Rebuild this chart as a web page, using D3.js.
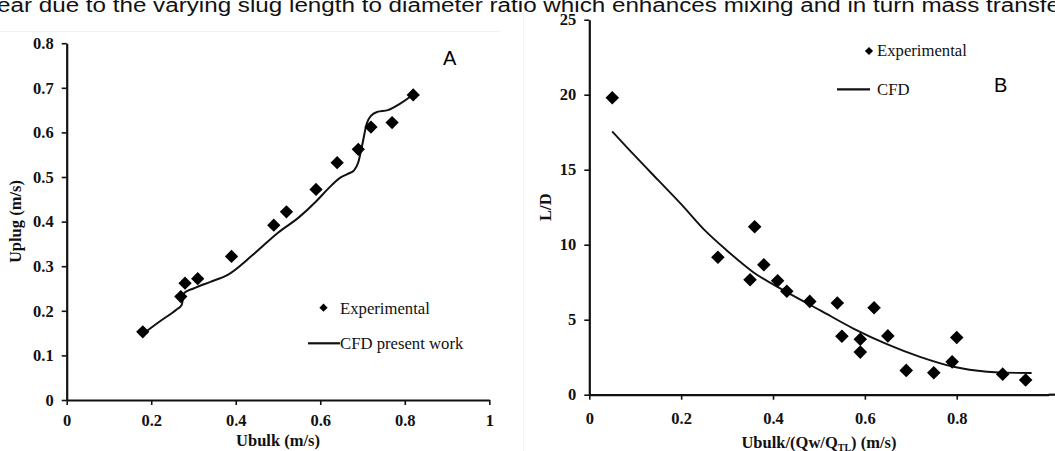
<!DOCTYPE html>
<html>
<head>
<meta charset="utf-8">
<script src="https://cdn.jsdelivr.net/npm/d3@7.9.0/dist/d3.min.js"></script>
<style>
  body { margin: 0; background: #fff; }
  svg { display: block; }
  .tick text { font-family: "Liberation Serif", "Times New Roman", serif; font-weight: bold; font-size: 16.5px; fill: #111; }
  .ttl { font-family: "Liberation Serif", "Times New Roman", serif; font-weight: bold; font-size: 16.5px; fill: #111; }
  .leg { font-family: "Liberation Serif", "Times New Roman", serif; font-size: 16.7px; fill: #111; }
  .panel { font-family: "Liberation Sans", Arial, sans-serif; font-size: 20px; fill: #000; }
</style>
</head>
<body>
<svg id="fig" width="1055" height="451"></svg>
<script>
// panel A: Uplug vs Ubulk
const aExpX = [0.18, 0.27, 0.28, 0.31, 0.39, 0.49, 0.52, 0.59, 0.64, 0.69, 0.72, 0.77, 0.82];
const aExpY = [0.153, 0.232, 0.262, 0.272, 0.322, 0.392, 0.422, 0.472, 0.532, 0.562, 0.612, 0.622, 0.684];
const aCfdX = [0.18, 0.22, 0.26, 0.272, 0.278, 0.30, 0.34, 0.38, 0.44, 0.50, 0.55, 0.59, 0.62, 0.645, 0.665, 0.68, 0.69, 0.70, 0.71, 0.72, 0.735, 0.76, 0.79, 0.82];
const aCfdY = [0.148, 0.176, 0.203, 0.213, 0.240, 0.250, 0.265, 0.280, 0.325, 0.375, 0.410, 0.445, 0.475, 0.497, 0.507, 0.515, 0.533, 0.575, 0.620, 0.637, 0.646, 0.650, 0.665, 0.685];
const aXTicks = [0, 0.2, 0.4, 0.6, 0.8, 1];
const aYTicks = [0, 0.1, 0.2, 0.3, 0.4, 0.5, 0.6, 0.7, 0.8];

// panel B: L/D vs Ubulk/(Qw/QTL)
const bExpX = [0.05, 0.28, 0.35, 0.36, 0.38, 0.41, 0.43, 0.48, 0.54, 0.55, 0.59, 0.59, 0.62, 0.65, 0.69, 0.75, 0.79, 0.80, 0.90, 0.95];
const bExpY = [19.8, 9.16, 7.66, 11.2, 8.66, 7.6, 6.9, 6.22, 6.11, 3.9, 3.7, 2.84, 5.8, 3.92, 1.62, 1.46, 2.19, 3.81, 1.37, 0.98];
const bCfdX = [0.05, 0.10, 0.15, 0.20, 0.25, 0.30, 0.357, 0.43, 0.503, 0.575, 0.648, 0.72, 0.793, 0.866, 0.90, 0.963];
const bCfdY = [17.55, 15.9, 14.3, 12.7, 11.0, 9.6, 8.17, 6.84, 5.62, 4.41, 3.37, 2.52, 1.86, 1.53, 1.47, 1.45];
const bXTicks = [0, 0.2, 0.4, 0.6, 0.8];
const bYTicks = [0, 5, 10, 15, 20, 25];

const svg = d3.select("#fig");

// clipped line of body text above the figure
svg.append("text")
  .attr("x", -3).attr("y", 12)
  .attr("textLength", 1063).attr("lengthAdjust", "spacingAndGlyphs")
  .style("font-family", "Liberation Sans, Arial, sans-serif")
  .style("font-size", "19.5px").style("fill", "#111")
  .text("ear due to the varying slug length to diameter ratio which enhances mixing and in turn mass transfe");

// faint image borders
svg.append("line").attr("x1", 0).attr("x2", 500).attr("y1", 31.5).attr("y2", 31.5).attr("stroke", "#f0f0f0");
svg.append("line").attr("x1", 523.5).attr("x2", 523.5).attr("y1", 13).attr("y2", 451).attr("stroke", "#f3f3f3");

const diamond = d3.symbol().type(d3.symbolSquare);

function drawAxes(g, x, y, xTicks, yTicks, xFmt, yFmt, xPad) {
  const xa = g.append("g").attr("transform", `translate(0,${y.range()[0]})`)
    .call(d3.axisBottom(x).tickValues(xTicks).tickFormat(xFmt).tickSize(5).tickSizeOuter(0).tickPadding(xPad));
  const ya = g.append("g").attr("transform", `translate(${x.range()[0]},0)`)
    .call(d3.axisLeft(y).tickValues(yTicks).tickFormat(yFmt).tickSize(5).tickSizeOuter(0).tickPadding(8));
  [xa, ya].forEach(a => {
    a.select(".domain").attr("stroke", "#111").attr("stroke-width", 2.2);
    a.selectAll(".tick line").attr("stroke", "#111").attr("stroke-width", 1.6);
  });
}

// ---------- panel A ----------
const xA = d3.scaleLinear().domain([0, 1]).range([66.7, 489.3]);
const yA = d3.scaleLinear().domain([0, 0.8]).range([400, 43.2]);
const gA = svg.append("g");
drawAxes(gA, xA, yA, aXTicks, aYTicks, d => d === 0 ? "0" : d === 1 ? "1" : d3.format(".1f")(d), d => d === 0 ? "0" : d3.format(".1f")(d), 9);

const lineA = d3.line().x((d, i) => xA(aCfdX[i])).y((d, i) => yA(aCfdY[i])).curve(d3.curveMonotoneX);
gA.append("path").attr("d", lineA(aCfdX)).attr("fill", "none").attr("stroke", "#111").attr("stroke-width", 2);

gA.selectAll(".pt").data(aExpX).join("path")
  .attr("d", diamond.size(88)())
  .attr("transform", (d, i) => `translate(${xA(d)},${yA(aExpY[i])}) rotate(45)`)
  .attr("fill", "#000");

gA.append("text").attr("class", "ttl").attr("x", xA(0.5)).attr("y", 446).attr("text-anchor", "middle").text("Ubulk (m/s)");
gA.append("text").attr("class", "ttl").attr("transform", `translate(21,${(yA(0) + yA(0.8)) / 2}) rotate(-90)`)
  .attr("text-anchor", "middle").text("Uplug (m/s)");
gA.append("text").attr("class", "panel").attr("x", 443).attr("y", 65).text("A");

// legend A
gA.append("path").attr("d", diamond.size(34)()).attr("transform", "translate(323.5,307.7) rotate(45)").attr("fill", "#000");
gA.append("text").attr("class", "leg").attr("x", 340).attr("y", 313.5).text("Experimental");
gA.append("line").attr("x1", 308).attr("x2", 340).attr("y1", 343.3).attr("y2", 343.3).attr("stroke", "#111").attr("stroke-width", 2.2);
gA.append("text").attr("class", "leg").attr("x", 340).attr("y", 348.5).text("CFD present work");

// ---------- panel B ----------
const xB = d3.scaleLinear().domain([0, 1]).range([589.3, 1048.6]);
const yB = d3.scaleLinear().domain([0, 25]).range([394.7, 19.7]);
const gB = svg.append("g");
drawAxes(gB, xB, yB, bXTicks, bYTicks, d => d === 0 ? "0" : d3.format(".1f")(d), d => String(d), 13);
// axis line runs on past the last tick to the picture edge
gB.append("line").attr("x1", xB(1)).attr("x2", 1055).attr("y1", yB(0)).attr("y2", yB(0)).attr("stroke", "#111").attr("stroke-width", 2.2);

const lineB = d3.line().x((d, i) => xB(bCfdX[i])).y((d, i) => yB(bCfdY[i])).curve(d3.curveMonotoneX);
gB.append("path").attr("d", lineB(bCfdX)).attr("fill", "none").attr("stroke", "#111").attr("stroke-width", 1.9);

gB.selectAll(".pt").data(bExpX).join("path")
  .attr("d", diamond.size(92)())
  .attr("transform", (d, i) => `translate(${xB(d)},${yB(bExpY[i])}) rotate(45)`)
  .attr("fill", "#000");

const tB = gB.append("text").attr("class", "ttl").attr("x", xB(0.5)).attr("y", 448).attr("text-anchor", "middle");
tB.append("tspan").text("Ubulk/(Qw/Q");
tB.append("tspan").attr("dy", 3).style("font-size", "10px").text("TL");
tB.append("tspan").attr("dy", -3).text(") (m/s)");
gB.append("text").attr("class", "ttl").attr("transform", `translate(551,${(yB(0) + yB(25)) / 2}) rotate(-90)`)
  .attr("text-anchor", "middle").text("L/D");
gB.append("text").attr("class", "panel").attr("x", 994).attr("y", 91.7).text("B");

// legend B
gB.append("path").attr("d", diamond.size(34)()).attr("transform", "translate(869,51) rotate(45)").attr("fill", "#000");
gB.append("text").attr("class", "leg").attr("x", 877).attr("y", 55.5).text("Experimental");
gB.append("line").attr("x1", 837).attr("x2", 870).attr("y1", 89.3).attr("y2", 89.3).attr("stroke", "#111").attr("stroke-width", 2.2);
gB.append("text").attr("class", "leg").attr("x", 877).attr("y", 94.5).text("CFD");
</script>
</body>
</html>
